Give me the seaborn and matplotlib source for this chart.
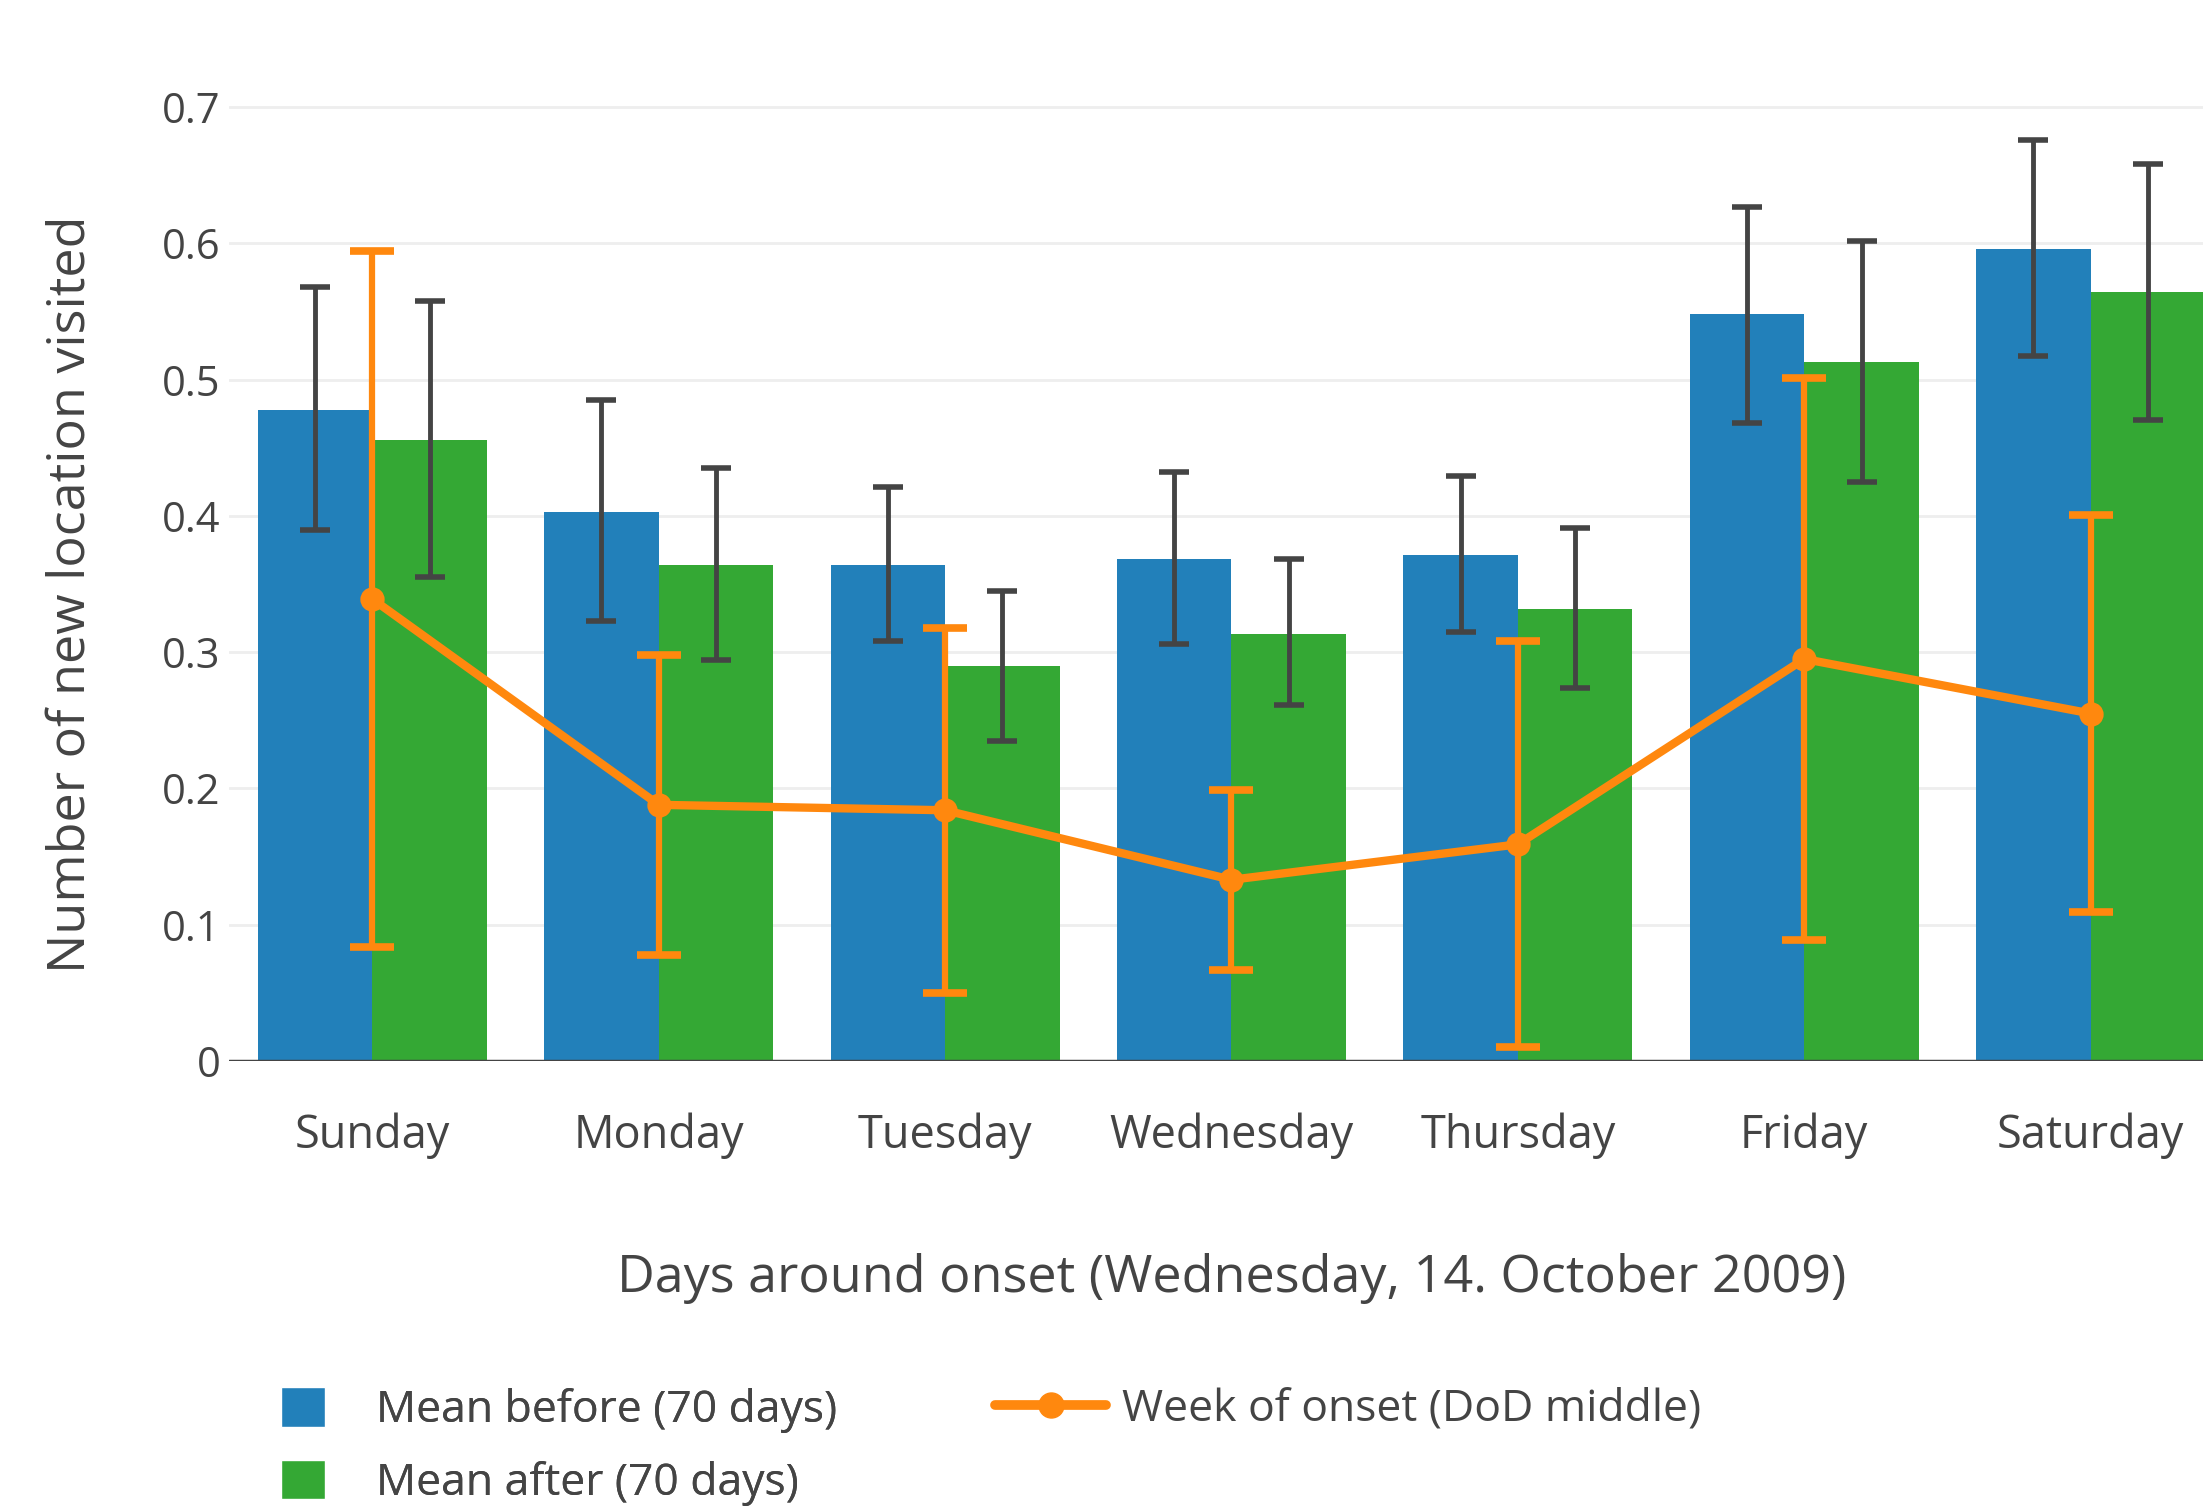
import numpy as np
import pandas as pd
import matplotlib
matplotlib.use("Agg")
import matplotlib.pyplot as plt
import seaborn as sns
from matplotlib.patches import Patch
from matplotlib.lines import Line2D

# ---- data ----
days = ["Sunday", "Monday", "Tuesday", "Wednesday", "Thursday", "Friday", "Saturday"]
before_mean = [0.478, 0.403, 0.364, 0.368, 0.371, 0.548, 0.596]
before_lo = [0.390, 0.323, 0.308, 0.306, 0.315, 0.468, 0.517]
before_hi = [0.568, 0.485, 0.421, 0.432, 0.429, 0.627, 0.676]
after_mean = [0.456, 0.364, 0.290, 0.313, 0.332, 0.513, 0.564]
after_lo = [0.355, 0.294, 0.235, 0.261, 0.274, 0.425, 0.470]
after_hi = [0.558, 0.435, 0.345, 0.368, 0.391, 0.602, 0.658]
onset = [0.339, 0.188, 0.184, 0.133, 0.159, 0.295, 0.255]
onset_err = [0.255, 0.110, 0.134, 0.066, 0.149, 0.206, 0.146]

labels = ["Mean before (70 days)", "Mean after (70 days)", "Week of onset (DoD middle)"]
BLUE, GREEN, ORANGE, GREY = "#2280ba", "#34a834", "#ff880e", "#444444"

sns.set_theme(style="white")
plt.rcParams["font.family"] = ["Open Sans", "DejaVu Sans"]

df = pd.DataFrame({
    "day": days * 2,
    "value": before_mean + after_mean,
    "period": [labels[0]] * len(days) + [labels[1]] * len(days),
})

fig = plt.figure(figsize=(22.03, 15.08), dpi=100)
ax = fig.add_axes([0.104, 0.2964, 0.910, 0.6507])

sns.barplot(data=df, x="day", y="value", hue="period", order=days,
            palette=[BLUE, GREEN], errorbar=None, width=0.8, saturation=1,
            linewidth=0, legend=False, ax=ax, zorder=2)

# grey whiskers on the bars
for cont, mean, lo, hi in zip(ax.containers, [before_mean, after_mean],
                              [before_lo, after_lo], [before_hi, after_hi]):
    xs = [p.get_x() + p.get_width() / 2 for p in cont.patches]
    mean = np.array(mean)
    yerr = [mean - np.array(lo), np.array(hi) - mean]
    ax.errorbar(xs, mean, yerr=yerr, fmt="none", ecolor=GREY, elinewidth=3.5,
                capsize=11, capthick=4, zorder=3)

# orange week-of-onset line
sns.pointplot(x=days, y=onset, order=days, color=ORANGE, errorbar=None,
              markers="o", markersize=13, linewidth=6, ax=ax, zorder=5)
ax.errorbar(np.arange(len(days)), onset, yerr=onset_err, fmt="none",
            ecolor=ORANGE, elinewidth=4.5, capsize=16, capthick=5.5, zorder=4)

ax.set_xlim(-0.5, 6.5)
ax.set_ylim(0, 0.72)
ax.set_yticks(np.arange(0, 0.71, 0.1))
ax.set_yticklabels(["0"] + [f"{v:.1f}" for v in np.arange(0.1, 0.71, 0.1)])
ax.grid(axis="y", color="#eeeeee", linewidth=2, zorder=0)
ax.set_axisbelow(True)
ax.axhline(0, color=GREY, linewidth=2.5, zorder=6)
sns.despine(ax=ax, left=True, bottom=True)

ax.tick_params(axis="both", length=0, labelcolor=GREY)
ax.tick_params(axis="x", pad=37, labelsize=32.5)
ax.tick_params(axis="y", pad=6, labelsize=30)

ax.set_xlabel("Days around onset (Wednesday, 14. October 2009)", fontsize=37.5,
              color=GREY, labelpad=68)
ax.set_ylabel("Number of new location visited", fontsize=37.5, color=GREY)
ax.yaxis.set_label_coords(-0.066, 0.476)

bar_handles = [Patch(facecolor=BLUE, label=labels[0]),
               Patch(facecolor=GREEN, label=labels[1])]
leg1 = fig.legend(handles=bar_handles, loc="center left",
                  bbox_to_anchor=(0.1275, 0.041), frameon=False, fontsize=32,
                  handlelength=1, handleheight=1, handletextpad=1.15,
                  labelspacing=0.6, borderpad=0, borderaxespad=0,
                  labelcolor=GREY)
line_handle = [Line2D([0], [0], color=ORANGE, linewidth=7, marker="o",
                      markersize=18, label=labels[2])]
fig.legend(handles=line_handle, loc="center left",
           bbox_to_anchor=(0.4517, 0.0655), frameon=False, fontsize=32,
           handlelength=2.5, handletextpad=0.35, borderpad=0, borderaxespad=0,
           labelcolor=GREY)
fig.add_artist(leg1)

fig.savefig("out.png", dpi=100)
